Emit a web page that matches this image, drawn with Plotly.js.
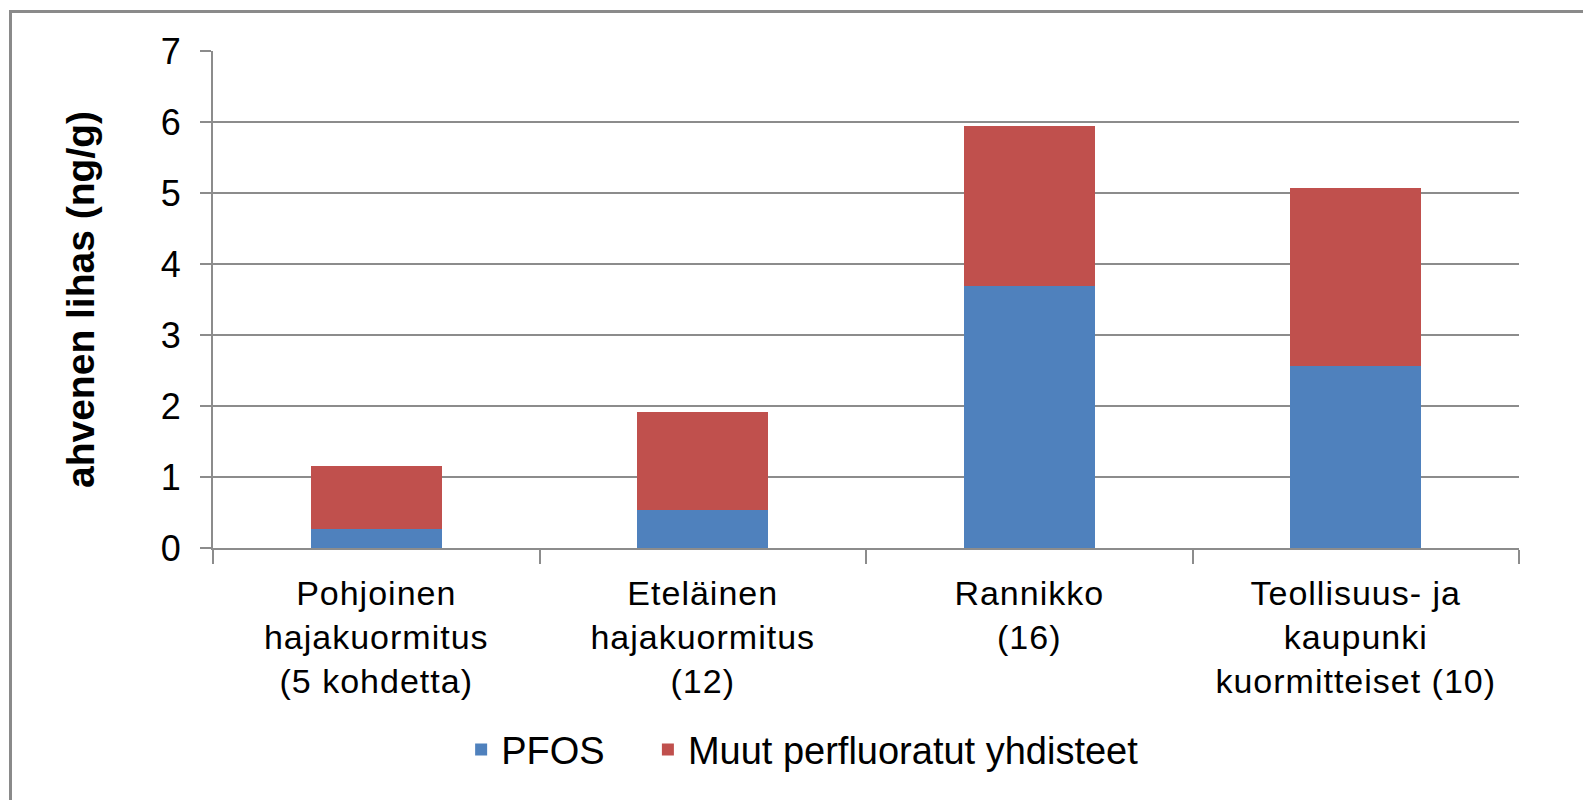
<!DOCTYPE html>
<html>
<head>
<meta charset="utf-8">
<script src="https://cdn.plot.ly/plotly-3.0.1.min.js"></script>
<style>
  body { margin: 0; background: #fff; }
  #wrap { position: relative; width: 1583px; height: 800px; }
  #myPlot { position: absolute; left: 0; top: 0; width: 1583px; height: 800px; }
  #frame { position: absolute; left: 9px; top: 10px; right: 0; bottom: 0;
           border-top: 3px solid #8a8a8a; border-left: 3px solid #8a8a8a; pointer-events: none; }
  /* Excel-tyylinen harvempi kirjainväli */
  #myPlot .xtick text { letter-spacing: 1px; }
</style>
</head>
<body>
<div id="wrap">
  <div id="myPlot"></div>
  <div id="frame"></div>
</div>
<script>
// alueet (näytteiden määrä suluissa)
var categories = [
  "Pohjoinen<br>hajakuormitus<br>(5 kohdetta)",
  "Eteläinen<br>hajakuormitus<br>(12)",
  "Rannikko<br>(16)",
  "Teollisuus- ja<br>kaupunki<br>kuormitteiset (10)"
];
var pfos = [0.27, 0.53, 3.69, 2.57];
var muut = [0.89, 1.38, 2.25, 2.50];   // pinottu PFOS:n päälle

var font = "Liberation Sans, Arial, sans-serif";

var data = [
  {x: categories, y: pfos, type: "bar", name: "PFOS",
   marker: {color: "#4F81BD"}, legend: "legend"},
  {x: categories, y: muut, type: "bar", name: "Muut perfluoratut yhdisteet",
   marker: {color: "#C0504D"}, legend: "legend2"}
];

var layout = {
  width: 1583, height: 800,
  barmode: "stack",
  bargap: 0.6,
  margin: {l: 213, r: 64, t: 51, b: 252},
  paper_bgcolor: "rgba(0,0,0,0)",
  plot_bgcolor: "#fff",
  font: {family: font, size: 35, color: "#000"},
  showlegend: true,
  // kaksi selitettä, jotta välit saa kuten alkuperäisessä
  legend: {orientation: "h", x: 0.19, xanchor: "left", y: -0.406, yanchor: "middle",
           font: {size: 38}},
  legend2: {orientation: "h", x: 0.333, xanchor: "left", y: -0.406, yanchor: "middle",
            font: {size: 38}},
  xaxis: {
    type: "category",
    showline: true, linecolor: "#8c8c8c", linewidth: 2,
    ticks: "outside", tickson: "boundaries", ticklen: 14, tickcolor: "#8c8c8c", tickwidth: 2,
    ticklabelstandoff: 14,
    showgrid: false,
    tickfont: {size: 34}
  },
  yaxis: {
    range: [0, 7], dtick: 1,
    showline: true, linecolor: "#8c8c8c", linewidth: 2,
    ticks: "outside", ticklen: 11, tickcolor: "#8c8c8c", tickwidth: 2,
    ticklabelstandoff: 12,
    gridcolor: "#8c8c8c", gridwidth: 2,
    zeroline: false,
    tickfont: {size: 36},
    title: {text: "ahvenen lihas (ng/g)", standoff: 54,
            font: {size: 39, family: font, weight: "bold"}}
  }
};

Plotly.newPlot("myPlot", data, layout, {displayModeBar: false, staticPlot: true});
</script>
</body>
</html>
